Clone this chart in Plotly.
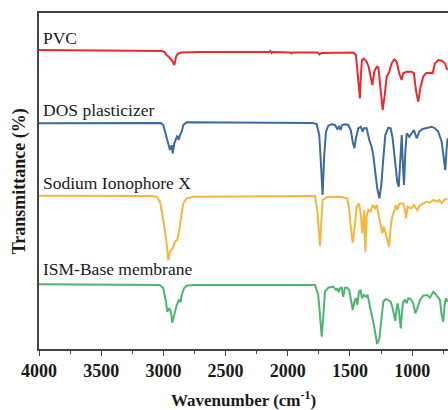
import plotly.graph_objects as go

# ---------------- data ----------------
# y values are stacked transmittance (arbitrary units, offset spectra)
pvc_wn = [4000, 3600, 3200, 3010, 2990, 2975, 2955, 2940, 2928, 2912, 2899, 2885, 2860, 2700, 2400,
          2150, 2140, 2130, 2120, 1980, 1970, 1960, 1760, 1745, 1730, 1490, 1473, 1452, 1441, 1430,
          1420, 1412, 1404, 1388, 1366, 1350, 1334, 1320, 1305, 1285, 1272, 1253, 1237, 1219, 1205,
          1184, 1165, 1144, 1125, 1104, 1085, 1072, 1044, 1004, 986, 970, 951, 932, 911, 889, 857,
          835, 817, 790, 763, 736, 718]
pvc_t = [299, 298.7, 298.2, 298, 297, 294, 292, 290, 288, 284, 292, 295, 296.5, 297, 296.8,
         297, 298, 296, 297, 296.5, 295.5, 296.5, 296.5, 294.5, 296, 296.5, 296.5, 294, 279, 264,
         250.7, 274, 289, 290.5, 287.3, 282.3, 274, 264, 277.3, 282.3, 281.7, 259, 239, 255.7, 272.3,
         277.3, 285.7, 289.7, 287.3, 275.7, 269, 275.7, 277.3, 277.3, 275.7, 259, 247.3, 262.3, 272.3, 275.7, 276.3,
         275.7, 285.7, 289, 288.3, 285.7, 279]

dos_wn = [4000, 3500, 3100, 3020, 3001, 2979, 2961, 2947, 2933, 2925, 2912, 2899, 2888, 2877, 2867,
          2853, 2840, 2813, 2500, 2000, 1800, 1768, 1747, 1733, 1720, 1707, 1693, 1674, 1647, 1621,
          1602, 1588, 1575, 1564, 1540, 1514, 1494, 1478, 1465, 1452, 1433, 1414, 1398, 1388, 1366,
          1345, 1326, 1313, 1299, 1281, 1264, 1248, 1232, 1216, 1192, 1173, 1157, 1138, 1120, 1108,
          1098, 1084, 1077, 1066, 1055, 1044, 1023, 1004, 986, 964, 943, 916, 883, 843, 817, 790,
          763, 744, 734, 723, 715]
dos_t = [225.7, 226, 226.3, 226, 224, 214, 204, 199, 204, 195.7, 205.7, 209, 213.3, 209, 214,
         217.3, 224, 226.7, 226.7, 226.5, 226, 225, 214, 184, 154, 194, 217.3, 223.3, 224.7, 224,
         220, 222.3, 219, 224, 224.7, 224, 219, 207.3, 200.7, 210.7, 220.7, 222.3, 217.3, 220.7, 220.7,
         209, 202.3, 194, 180.7, 160.7, 150.7, 164, 190.7, 214, 221.3, 220.7, 210.7, 190.7, 167.3, 162.3,
         190.7, 214, 190.7, 164, 197.3, 215.7, 212.3, 215.7, 219, 210.7, 217.3, 220, 221.3, 222.3, 220.7, 217.3,
         207.3, 190.7, 179, 200.7, 210.7]

nax_wn = [4000, 3500, 3100, 3054, 3027, 3001, 2974, 2961, 2947, 2925, 2907, 2888, 2872, 2853, 2840,
          2813, 2760, 2400, 2000, 1781, 1763, 1749, 1741, 1731, 1720, 1688, 1580, 1522, 1506, 1494,
          1478, 1465, 1446, 1428, 1414, 1401, 1393, 1385, 1377, 1366, 1353, 1334, 1318, 1299, 1285,
          1272, 1253, 1240, 1227, 1211, 1200, 1186, 1173, 1160, 1146, 1130, 1120, 1104, 1072, 1058,
          1050, 1036, 1004, 986, 959, 937, 911, 883, 857, 830, 803, 782, 763, 744, 718]
nax_t = [153.3, 153.2, 153, 152.3, 147.3, 129, 105.7, 89, 97.3, 100.7, 107.3, 109, 119, 135.7, 145.7,
         150.7, 152.3, 152.5, 152.7, 153, 139, 115.7, 103, 125.7, 149, 151.7, 152.3, 150.7, 139, 122.3,
         106.3, 119, 142.3, 145.7, 135.7, 115.7, 125.7, 139, 97.3, 132.3, 139, 137.3, 144, 140.7, 144,
         135.7, 125.7, 115.7, 122.3, 115.7, 109, 102.3, 122.3, 132.3, 139, 144, 139, 145, 145.7, 139,
         130.7, 142.3, 140.7, 144, 139, 144, 145.7, 147.3, 146.3, 149, 147.3, 149, 145.7, 149, 150.7]

ism_wn = [4000, 3500, 3100, 3030, 3014, 3001, 2979, 2969, 2953, 2939, 2928, 2912, 2893, 2875, 2861,
          2853, 2834, 2813, 2760, 2400, 2000, 1781, 1755, 1741, 1727, 1714, 1701, 1674, 1634, 1613,
          1602, 1591, 1580, 1567, 1554, 1540, 1522, 1506, 1492, 1478, 1465, 1452, 1441, 1428, 1414,
          1404, 1388, 1371, 1358, 1345, 1331, 1313, 1297, 1281, 1264, 1248, 1232, 1211, 1192, 1173,
          1157, 1146, 1136, 1125, 1117, 1106, 1092, 1082, 1072, 1058, 1044, 1031, 1012, 991, 975,
          959, 937, 911, 879, 857, 830, 817, 795, 777, 763, 750, 739, 729, 715]
ism_t = [64.7, 64.5, 64.3, 64, 62.3, 60.7, 47.3, 37.3, 40.7, 37, 26.3, 34, 44, 49, 47,
         54, 60.7, 63.3, 64, 64, 64.2, 64, 54, 30.7, 12.3, 34, 57.3, 61.3, 62.3, 59,
         60.7, 56.7, 60.7, 61.3, 52.3, 61.3, 61.3, 59, 47.3, 39, 47.3, 50.7, 44, 57.3, 59,
         50.7, 54, 52.3, 54, 47.3, 37.3, 27.3, 14, 5, 10.7, 30.7, 47.3, 50, 49, 47.3,
         40.7, 34, 28, 40.7, 45.7, 37.3, 20.7, 37.3, 47.3, 49, 45.7, 50.7, 50, 45.7, 35.7,
         40.7, 49, 53.3, 54, 51.3, 57.3, 55.7, 52.3, 49, 34, 27.3, 44, 50.7, 47.3]

series_names = ["PVC", "DOS plasticizer", "Sodium Ionophore X", "ISM-Base membrane"]
series_wn = [pvc_wn, dos_wn, nax_wn, ism_wn]
series_t = [pvc_t, dos_t, nax_t, ism_t]
series_colors = ["#EC2A2E", "#3B6BA0", "#F5B63A", "#4BB572"]
label_y = [0.925, 0.711, 0.494, 0.238]

x_ticks = [4000, 3500, 3000, 2500, 2000, 1500, 1000]

FONT = "Liberation Serif, Times New Roman, serif"

fig = go.Figure()
for name, wn, t, c in zip(series_names, series_wn, series_t, series_colors):
    fig.add_trace(go.Scatter(x=wn, y=t, mode="lines", name=name,
                             line=dict(color=c, width=2), showlegend=False))

for name, ly in zip(series_names, label_y):
    fig.add_annotation(text=name, xref="paper", yref="paper", x=0.005, y=ly,
                       xanchor="left", yanchor="middle", showarrow=False,
                       font=dict(family=FONT, size=17.5, color="#1a1a1a"))

fig.add_annotation(text="<b>Wavenumber (cm<sup>-1</sup>)</b>", xref="paper", yref="paper",
                   x=0.5, y=-0.148, xanchor="center", yanchor="middle", showarrow=False,
                   font=dict(family=FONT, size=17, color="#1a1a1a"))
fig.add_annotation(text="<b>Transmittance (%)</b>", xref="paper", yref="paper",
                   x=-0.048, y=0.5, xanchor="center", yanchor="middle", showarrow=False,
                   textangle=-90, font=dict(family=FONT, size=18, color="#1a1a1a"))

fig.update_layout(
    width=448, height=410,
    margin=dict(l=39, r=0, t=13, b=61),
    paper_bgcolor="white", plot_bgcolor="white",
    xaxis=dict(range=[4000, 712], tickvals=x_ticks, ticks="outside", ticklen=5,
               tickwidth=1.3, tickcolor="#444", showline=True, linecolor="#444", linewidth=1.5,
               mirror=True, showgrid=False, zeroline=False,
               tickfont=dict(family=FONT, size=18, color="#1a1a1a", weight="bold"),
               minor=dict(ticks="outside", ticklen=3, dtick=250, tickcolor="#444", tickwidth=1.2)),
    yaxis=dict(range=[0, 336], showticklabels=False, ticks="", showline=True,
               linecolor="#444", linewidth=1.5, showgrid=False, zeroline=False),
)

fig.write_html("out.html")
